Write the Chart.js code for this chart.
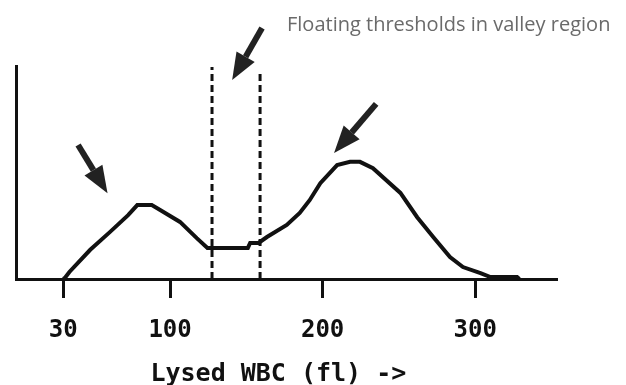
<!DOCTYPE html>
<html>
<head>
<meta charset="utf-8">
<script src="https://cdn.jsdelivr.net/npm/chart.js@4.4.1/dist/chart.umd.min.js"></script>
<style>
  body { margin: 0; background: #fff; }
</style>
</head>
<body>
<canvas id="wbc-chart" width="626" height="385"></canvas>
<script>
// Lysed WBC histogram (size in fl vs relative count)
const curveX = [30, 31, 34, 47.5, 60.5, 72.5, 78.5, 88, 93.5, 106.5, 117.5, 124.5, 151, 152.5, 158, 163.5, 176.5, 185, 191.5, 198.5, 209.5, 218, 224.5, 233, 251, 262, 272.5, 283.5, 292, 303.5, 310, 327.5, 329];
const curveY = [0, 0.5, 3.3, 13.6, 22, 30, 34.7, 34.7, 32.4, 26.8, 19.2, 14.6, 14.6, 16.9, 16.9, 19.7, 25.4, 31, 37, 45, 53.5, 55, 55, 52, 40.4, 29, 19.7, 10.3, 5.6, 2.8, 0.9, 0.9, 0];

// floating thresholds (dashed lines)
const thresholdX = [127.5, 159];
const thresholdTop = [99.5, 97.2];

// x axis tick labels
const tickValues = [30, 100, 200, 300];

// arrows: [tailX, tailY, tipX, tipY] in data units
const arrowLeft = [39.7, 62.9, 59, 40.3];
const arrowMiddle = [160.3, 117.8, 140.7, 93.4];
const arrowRight = [235.1, 82.2, 207.5, 59.2];

const noteText = 'Floating thresholds in valley region';
const axisTitle = 'Lysed WBC (fl) ->';
const axisTitleAt = 171; // x value under the middle of the title

const ink = '#111';
const monoFont = { family: '"DejaVu Sans Mono", monospace', size: 24, weight: 'bold', lineHeight: 1 };

const drawArrow = (ctx, x1, y1, x2, y2) => {
  const ang = Math.atan2(y2 - y1, x2 - x1);
  const headLen = 27;
  const headHalf = 10.5;
  const bx = x2 - Math.cos(ang) * headLen;
  const by = y2 - Math.sin(ang) * headLen;
  ctx.beginPath();
  ctx.moveTo(x1, y1);
  ctx.lineTo(bx, by);
  ctx.lineWidth = 6;
  ctx.strokeStyle = '#222';
  ctx.stroke();
  ctx.beginPath();
  ctx.moveTo(x2, y2);
  ctx.lineTo(bx + Math.sin(ang) * headHalf, by - Math.cos(ang) * headHalf);
  ctx.lineTo(bx - Math.sin(ang) * headHalf, by + Math.cos(ang) * headHalf);
  ctx.closePath();
  ctx.fillStyle = '#222';
  ctx.fill();
};

const annotationPlugin = {
  id: 'annotations',
  afterDraw: (chart) => {
    const { ctx, scales } = chart;
    ctx.save();
    [arrowLeft, arrowMiddle, arrowRight].forEach((a) => {
      drawArrow(ctx,
        scales.x.getPixelForValue(a[0]), scales.y.getPixelForValue(a[1]),
        scales.x.getPixelForValue(a[2]), scales.y.getPixelForValue(a[3]));
    });
    // axis title, a bit left of the axis centre like the original
    ctx.font = 'bold 25px "DejaVu Sans Mono", monospace';
    ctx.fillStyle = ink;
    ctx.textAlign = 'center';
    ctx.textBaseline = 'alphabetic';
    ctx.fillText(axisTitle, scales.x.getPixelForValue(axisTitleAt), 381);
    // note at the top right
    ctx.font = '20px "Open Sans", sans-serif';
    ctx.fillStyle = '#6a6a6a';
    ctx.textAlign = 'left';
    ctx.fillText(noteText, 287, 31);
    ctx.restore();
  }
};

const thresholdSets = thresholdX.map((x, i) => ({
  data: [{ x: x, y: 0 }, { x: x, y: thresholdTop[i] }],
  borderColor: ink,
  borderWidth: 3,
  borderDash: [7, 4],
  pointRadius: 0,
  clip: false
}));

const ctx = document.getElementById('wbc-chart').getContext('2d');
const wbcChart = new Chart(ctx, {
  type: 'line',
  data: {
    datasets: [{
      data: curveX.map((x, i) => ({ x: x, y: curveY[i] })),
      borderColor: ink,
      borderWidth: 4,
      pointRadius: 0,
      tension: 0,
      clip: false
    }, ...thresholdSets]
  },
  plugins: [annotationPlugin],
  options: {
    responsive: false,
    animation: false,
    layout: {
      padding: { left: 16, right: 70, top: 66, bottom: 0 }
    },
    plugins: {
      legend: { display: false },
      tooltip: { enabled: false }
    },
    scales: {
      x: {
        type: 'linear',
        min: -1,
        max: 353,
        afterBuildTicks: (scale) => {
          scale.ticks = tickValues.map((v) => ({ value: v }));
        },
        afterFit: (scale) => {
          scale.height = 106;
        },
        ticks: {
          color: ink,
          font: monoFont,
          padding: 21,
          autoSkip: false,
          maxRotation: 0
        },
        grid: {
          drawOnChartArea: false,
          drawTicks: true,
          tickLength: 19,
          lineWidth: 3,
          color: ink
        },
        border: { display: true, width: 3, color: ink }
      },
      y: {
        min: 0,
        max: 100,
        afterFit: (scale) => {
          scale.width = 0;
        },
        ticks: { display: false },
        grid: { display: false },
        border: { display: true, width: 3, color: ink }
      }
    }
  }
});
</script>
</body>
</html>
